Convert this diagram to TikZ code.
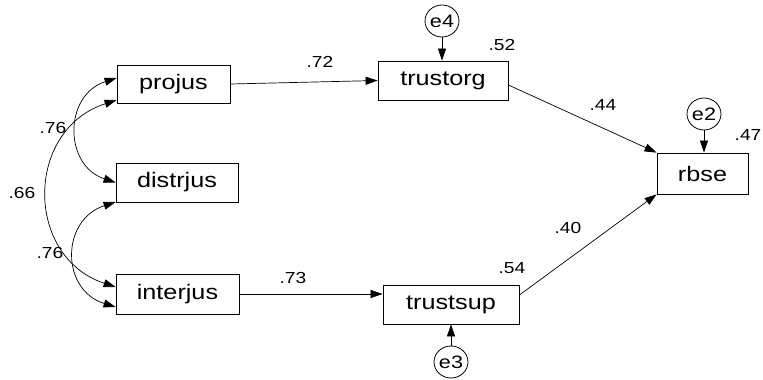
\documentclass[tikz,border=0pt]{standalone}
\usepackage{fontspec}
\setmainfont{Liberation Sans}[FakeStretch=1.2]
\usetikzlibrary{arrows.meta,shapes.geometric}
\begin{document}
\begin{tikzpicture}[x=1pt,y=-1pt,
  obs/.style={draw, line width=0.8pt, inner sep=0pt,
    font=\fontsize{21}{21}\selectfont},
  err/.style={draw, ellipse, line width=0.8pt, inner sep=0pt,
    minimum width=34pt, minimum height=32pt,
    font=\fontsize{18}{18}\selectfont},
  coef/.style={inner sep=0pt, font=\fontsize{16}{16}\selectfont},
  tip/.tip={Triangle[length=12pt,width=8pt]},
  regpath/.style={line width=0.7pt, -tip},
  covpath/.style={line width=0.7pt, tip-tip}]
\useasboundingbox (0,0) rectangle (763,380);

% observed variables
\node[obs, minimum width=113pt, minimum height=38pt] (projus)   at (173.5,84)  {projus};
\node[obs, minimum width=122pt, minimum height=39pt] (distrjus) at (177,182.5) {distrjus};
\node[obs, minimum width=123pt, minimum height=40pt] (interjus) at (177.5,294) {interjus};
\node[obs, minimum width=130pt, minimum height=39pt] (trustorg) at (443,80.5)  {trustorg};
\node[obs, minimum width=136pt, minimum height=39pt] (trustsup) at (451,304.5) {trustsup};
\node[obs, minimum width=91pt,  minimum height=41pt] (rbse)     at (702.5,173.5) {rbse};

% error terms
\node[err] (e4) at (442,21)  {e4};
\node[err] (e3) at (451,362) {e3};
\node[err] (e2) at (704,114) {e2};

% regression paths
\draw[regpath] (projus.east) -- (trustorg.west);
\draw[regpath] (interjus.east) -- (interjus.east -| trustsup.west);
\draw[regpath] ([yshift=-4.5pt]trustorg.east) -- (rbse.north west);
\draw[regpath] ([yshift=9.5pt]trustsup.east) -- (rbse.south west);
\draw[regpath] (e4) -- (e4 |- trustorg.north);
\draw[regpath] (e3) -- (e3 |- trustsup.south);
\draw[regpath] (e2) -- (e2 |- rbse.north);

% covariances among the exogenous variables
\draw[covpath] ([yshift=6pt]projus.west) .. controls +(-53,17) and +(-52,-17) .. (distrjus.west);
\draw[covpath] ([yshift=-16pt]projus.west) .. controls +(-92,30) and +(-91,-30) .. ([yshift=7pt]interjus.west);
\draw[covpath] ([yshift=-19.5pt]distrjus.west) .. controls +(-55,18) and +(-55,-17) .. ([yshift=-13pt]interjus.west);

% estimates
\node[coef] (c1) at (53,128)  {.76};
\node[coef] (c2) at (22,193)  {.66};
\node[coef] (c3) at (50,253)  {.76};
\node[coef] (c4) at (320,62)  {.72};
\node[coef] (c5) at (293,278) {.73};
\node[coef] (c6) at (502,45)  {.52};
\node[coef] (c7) at (512,268) {.54};
\node[coef] (c8) at (603,105) {.44};
\node[coef] (c9) at (568,228) {.40};
\node[coef] (c10) at (748,135) {.47};
\end{tikzpicture}
\end{document}
